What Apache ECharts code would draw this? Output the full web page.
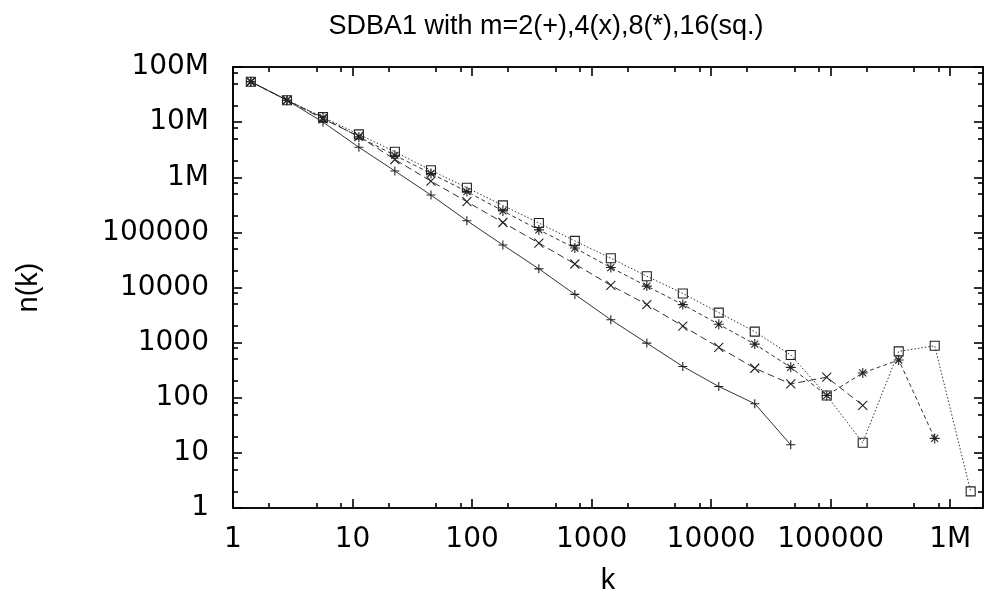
<!DOCTYPE html>
<html>
<head>
<meta charset="utf-8">
<script src="https://cdn.jsdelivr.net/npm/echarts@6/dist/echarts.min.js"></script>
<style>html,body{margin:0;padding:0;background:#fff}#c{width:984px;height:600px}</style>
</head>
<body>
<div id="c"></div>
<script>
// ---- data ----
var titleText = 'SDBA1 with m=2(+),4(x),8(*),16(sq.)';
var kValues = [1.41, 2.83, 5.66, 11.3, 22.6, 45.3, 90.5, 181, 362, 724, 1448, 2896, 5793, 11585, 23170, 46341, 92682, 185364, 370728, 741455, 1482910];
var nM2  = [5.4e7, 2.5e7, 1.0e7, 3.5e6, 1.3e6, 4.75e5, 1.63e5, 5.9e4, 2.18e4, 7500, 2600, 980, 370, 160, 78, 14];
var nM4  = [5.4e7, 2.5e7, 1.15e7, 5.5e6, 2.1e6, 8.5e5, 3.6e5, 1.51e5, 6.4e4, 2.67e4, 1.09e4, 4900, 2000, 820, 343, 178, 236, 73];
var nM8  = [5.4e7, 2.5e7, 1.2e7, 5.4e6, 2.5e6, 1.17e6, 5.5e5, 2.45e5, 1.11e5, 5.2e4, 2.3e4, 1.06e4, 4900, 2150, 940, 356, 110, 282, 484, 18.3];
var nM16 = [5.4e7, 2.5e7, 1.23e7, 6.0e6, 2.9e6, 1.34e6, 6.45e5, 3.09e5, 1.48e5, 7.0e4, 3.4e4, 1.6e4, 7800, 3500, 1580, 596, 110, 15.3, 694, 877, 2];
var xMajor = [1, 10, 100, 1000, 10000, 100000, 1000000];
var yMajor = [1, 10, 100, 1000, 10000, 100000, 1000000, 10000000, 100000000];
var tickNames = {1000000: '1M', 10000000: '10M', 100000000: '100M'};
var minorMult = [2, 5, 8];

function minorsFor(major, max) {
  var out = [];
  major.forEach(function (m) { minorMult.forEach(function (f) { if (m * f < max) out.push(m * f); }); });
  return out;
}
function zip(ys) { return ys.map(function (y, i) { return [kValues[i], y]; }); }
function fmt(v) { return tickNames[v] || String(v); }

var X_MIN = 1, X_MAX = 1.88e6, Y_MIN = 1, Y_MAX = 1e8;
var labelFont = {fontFamily: 'DejaVu Sans', fontSize: 28, color: '#000'};

function tickDef(ticks, len) {
  return {show: true, inside: true, length: len, customValues: ticks, lineStyle: {color: '#000', width: 1.6}};
}
function xAxisDef(pos, ticks, len, labels, extra) {
  return Object.assign({
    type: 'log', logBase: 10, min: X_MIN, max: X_MAX, position: pos, gridIndex: 0,
    axisLine: {show: true, lineStyle: {color: '#000', width: 1.6}},
    splitLine: {show: false},
    axisTick: tickDef(ticks, len),
    axisLabel: labels ? Object.assign({show: true, margin: 18, formatter: fmt, customValues: xMajor}, labelFont) : {show: false}
  }, extra || {});
}
function yAxisDef(pos, ticks, len, labels, extra) {
  return Object.assign({
    type: 'log', logBase: 10, min: Y_MIN, max: Y_MAX, position: pos, gridIndex: 0,
    axisLine: {show: true, lineStyle: {color: '#000', width: 1.6}},
    splitLine: {show: false},
    axisTick: tickDef(ticks, len),
    axisLabel: labels ? Object.assign({show: true, margin: 24, formatter: fmt, customValues: yMajor}, labelFont) : {show: false}
  }, extra || {});
}

var plusPath = 'path://M0,5L10,5M5,0L5,10';
var crossPath = 'path://M0,0L10,10M10,0L0,10';
var starPath = 'path://M0,5L10,5M5,0L5,10M1.5,1.5L8.5,8.5M8.5,1.5L1.5,8.5';
var squarePath = 'path://M0,0L10,0L10,10L0,10Z';

function seriesDef(name, ys, sym, size, dash) {
  return {
    name: name, type: 'line', xAxisIndex: 0, yAxisIndex: 0,
    data: zip(ys),
    symbol: sym, symbolSize: size, showSymbol: true,
    lineStyle: {color: '#333', width: 1, type: dash},
    itemStyle: {color: 'rgba(0,0,0,0)', borderColor: '#222', borderWidth: 1.1},
    emphasis: {disabled: true},
    animation: false, z: 3
  };
}

var chart = echarts.init(document.getElementById('c'), null, {renderer: 'canvas'});
chart.setOption({
  backgroundColor: '#fff',
  animation: false,
  title: {
    text: titleText, left: 541, top: 8, textAlign: 'center',
    textStyle: {fontFamily: 'Liberation Sans', fontSize: 27, fontWeight: 'normal', color: '#000'}
  },
  grid: {left: 233, top: 67, width: 750, height: 445, show: false},
  xAxis: [
    xAxisDef('bottom', xMajor, 9, true, {
      name: 'k', nameLocation: 'middle', nameGap: 58,
      nameTextStyle: {fontFamily: 'Liberation Sans', fontSize: 29, color: '#000'}
    }),
    xAxisDef('bottom', minorsFor(xMajor, X_MAX), 5, false),
    xAxisDef('top', xMajor, 9, false),
    xAxisDef('top', minorsFor(xMajor, X_MAX), 5, false)
  ],
  yAxis: [
    yAxisDef('left', yMajor, 9, true, {
      name: 'n(k)', nameLocation: 'middle', nameGap: 190, nameRotate: 90,
      nameTextStyle: {fontFamily: 'Liberation Sans', fontSize: 29, color: '#000'}
    }),
    yAxisDef('left', minorsFor(yMajor, Y_MAX), 5, false),
    yAxisDef('right', yMajor, 9, false),
    yAxisDef('right', minorsFor(yMajor, Y_MAX), 5, false)
  ],
  series: [
    seriesDef('m=2', nM2, plusPath, 9, 'solid'),
    seriesDef('m=4', nM4, crossPath, 9, [7, 4]),
    seriesDef('m=8', nM8, starPath, 10, [4, 3]),
    seriesDef('m=16', nM16, squarePath, 9, [1.5, 2])
  ]
});
</script>
</body>
</html>
